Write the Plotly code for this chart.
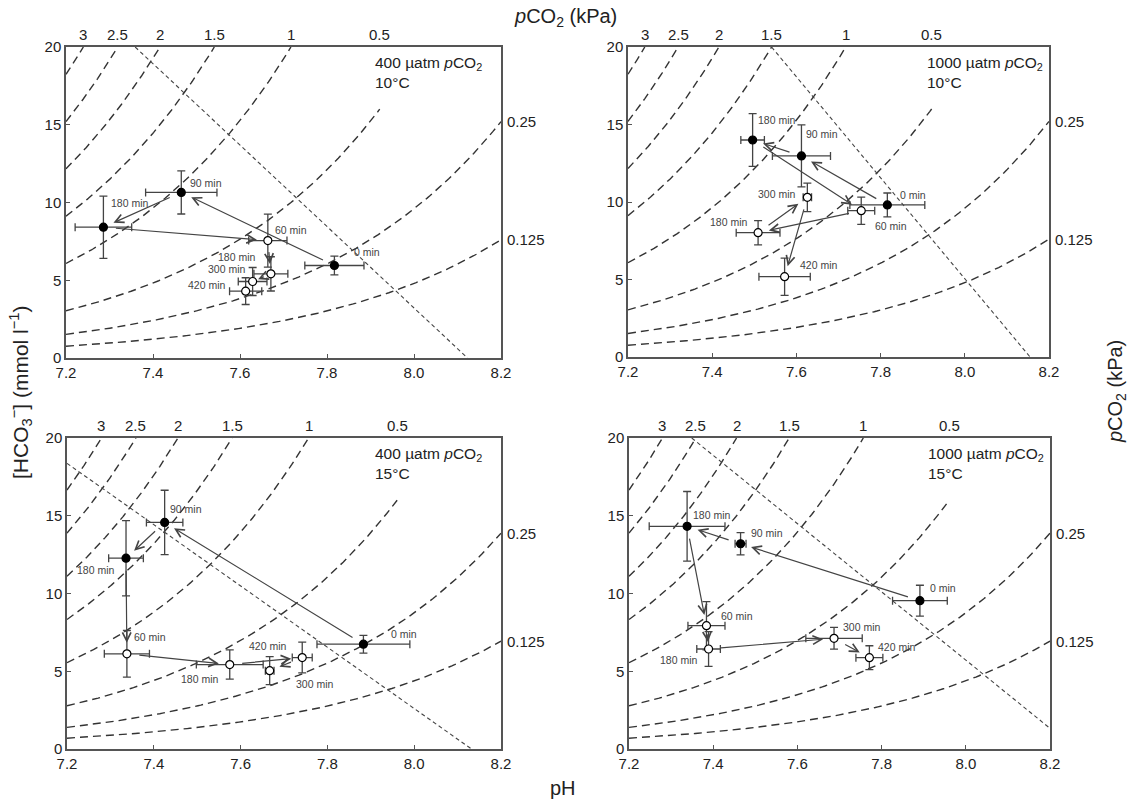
import numpy as np
import plotly.graph_objects as go

# ---------------- data ----------------
panel_titles = [
    "400 µatm <i>p</i>CO<sub>2</sub><br>10°C",
    "1000 µatm <i>p</i>CO<sub>2</sub><br>10°C",
    "400 µatm <i>p</i>CO<sub>2</sub><br>15°C",
    "1000 µatm <i>p</i>CO<sub>2</sub><br>15°C",
]
panel_temps = [10, 10, 15, 15]
co2_solubility = {10: 0.483, 15: 0.441}   # mmol l-1 kPa-1
pK = 6.1

isopleth_pco2 = [3, 2.5, 2, 1.5, 1, 0.5, 0.25, 0.125]
isopleth_top = [20, 20, 20, 20, 20, 16, 20, 20]
isopleth_labels = ["3", "2.5", "2", "1.5", "1", "0.5", "0.25", "0.125"]

time_labels = ["0 min", "90 min", "180 min", "60 min", "180 min", "300 min", "420 min"]
filled = [True, True, True, False, False, False, False]

p1_ph = [7.817, 7.465, 7.286, 7.664, 7.671, 7.629, 7.613]
p1_ph_err = [0.068, 0.082, 0.065, 0.044, 0.039, 0.033, 0.037]
p1_hco3 = [5.95, 10.65, 8.41, 7.55, 5.41, 4.92, 4.30]
p1_hco3_err = [0.60, 1.39, 2.0, 1.7, 1.1, 0.9, 0.86]

p2_ph = [7.816, 7.612, 7.496, 7.754, 7.509, 7.626, 7.572]
p2_ph_err = [0.089, 0.069, 0.028, 0.032, 0.052, 0.010, 0.061]
p2_hco3 = [9.81, 12.97, 14.0, 9.44, 8.02, 10.3, 5.18]
p2_hco3_err = [0.77, 2.0, 1.7, 0.88, 0.78, 0.92, 1.2]

p3_ph = [7.883, 7.425, 7.336, 7.338, 7.575, 7.742, 7.667]
p3_ph_err = [0.107, 0.042, 0.040, 0.052, 0.077, 0.023, 0.010]
p3_hco3 = [6.74, 14.57, 12.27, 6.12, 5.43, 5.88, 5.04]
p3_hco3_err = [0.57, 2.07, 2.42, 1.5, 0.94, 0.99, 0.90]

p4_ph = [7.891, 7.465, 7.338, 7.384, 7.389, 7.687, 7.771]
p4_ph_err = [0.065, 0.013, 0.090, 0.044, 0.028, 0.067, 0.032]
p4_hco3 = [9.54, 13.2, 14.32, 7.93, 6.43, 7.12, 5.87]
p4_hco3_err = [0.99, 0.72, 2.24, 1.55, 1.12, 0.70, 0.77]

buffer_ph = [[7.359, 8.123], [7.541, 8.155], [7.2, 8.132], [7.349, 8.2]]
buffer_hco3 = [[20, 0], [20, 0], [18.37, 0], [20, 1.33]]

ph_ticks = [7.2, 7.4, 7.6, 7.8, 8.0, 8.2]
hco3_ticks = [0, 5, 10, 15, 20]

ph_all = [p1_ph, p2_ph, p3_ph, p4_ph]
ph_err_all = [p1_ph_err, p2_ph_err, p3_ph_err, p4_ph_err]
hco3_all = [p1_hco3, p2_hco3, p3_hco3, p4_hco3]
hco3_err_all = [p1_hco3_err, p2_hco3_err, p3_hco3_err, p4_hco3_err]

# ---------------- layout (positions / styles) ----------------
W, H = 1130, 800
dom_x_px = [(66, 501), (628, 1049), (67, 501), (629, 1050)]
dom_y_px = [(47, 358), (47, 357), (438, 749), (438, 749)]

# label offsets (xanchor, xshift px, yshift px) per panel and point
label_pos = [
    [("left", 18, 13), ("left", 7, 9), ("left", 6, 24), ("left", 5, 11),
     ("right", -13, 17), ("right", -5, 12), ("right", -18, 6)],
    [("left", 11, 10), ("left", 3, 22), ("left", 3, 20), ("left", 12, -15),
     ("right", -8, 11), ("right", -9, 3), ("left", 13, 12)],
    [("left", 26, 10), ("left", 3, 13), ("right", -9, -12), ("left", 5, 17),
     ("right", -9, -14), ("center", 13, -26), ("center", -2, 25)],
    [("left", 8, 13), ("left", 8, 11), ("left", 4, 11), ("left", 13, 10),
     ("right", -9, -11), ("left", 7, 11), ("left", 7, 11)],
]

FONT = "Arial, 'Liberation Sans', Helvetica, sans-serif"
TXT = "#222222"
LINE = "#333333"

fig = go.Figure()
annotations = []
layout_axes = {}

for i in range(4):
    xs = "" if i == 0 else str(i + 1)
    xa, ya = "x" + xs, "y" + xs
    x0, x1 = dom_x_px[i]
    y0, y1 = dom_y_px[i]
    px_per_ph = (x1 - x0) / 1.0
    px_per_hc = (y1 - y0) / 20.0

    layout_axes["xaxis" + xs] = dict(
        domain=[x0 / W, x1 / W], range=[7.2, 8.2], anchor=ya, automargin=False,
        tickvals=ph_ticks, ticktext=[f"{v:.1f}" for v in ph_ticks],
        ticks="inside", ticklen=4, tickcolor="#555", showline=True, mirror=True,
        linecolor="#555", linewidth=1.5, showgrid=False, zeroline=False,
        tickfont=dict(family=FONT, size=15, color=TXT), fixedrange=True)
    layout_axes["yaxis" + xs] = dict(
        domain=[1 - y1 / H, 1 - y0 / H], range=[0, 20], anchor=xa, automargin=False,
        tickvals=hco3_ticks, ticks="inside", ticklen=4, tickcolor="#555",
        showline=True, mirror=True, linecolor="#555", linewidth=1.5,
        showgrid=False, zeroline=False,
        tickfont=dict(family=FONT, size=15, color=TXT), fixedrange=True)

    alpha = co2_solubility[panel_temps[i]]
    for pc, top, lab in zip(isopleth_pco2, isopleth_top, isopleth_labels):
        ph_end = min(8.2, pK + np.log10(top / (alpha * pc)))
        ph = np.linspace(7.2, ph_end, 160)
        hc = alpha * pc * 10 ** (ph - pK)
        fig.add_trace(go.Scatter(
            x=ph, y=hc, mode="lines", xaxis=xa, yaxis=ya, showlegend=False,
            hoverinfo="skip", line=dict(color=LINE, width=1.4, dash="8px,5px")))
        if ph_end < 8.2 - 1e-9:
            annotations.append(dict(
                x=ph_end, y=20, xref=xa, yref=ya, text=lab, showarrow=False,
                xanchor="center", yanchor="bottom", yshift=2,
                font=dict(family=FONT, size=15, color=TXT)))
        else:
            annotations.append(dict(
                x=8.2, y=hc[-1], xref=xa, yref=ya, text=lab, showarrow=False,
                xanchor="left", yanchor="middle", xshift=4,
                font=dict(family=FONT, size=15, color=TXT)))

    fig.add_trace(go.Scatter(
        x=buffer_ph[i], y=buffer_hco3[i], mode="lines", xaxis=xa, yaxis=ya,
        showlegend=False, hoverinfo="skip",
        line=dict(color="#444", width=1.1, dash="4px,3px")))

    ph_v, ph_e = ph_all[i], ph_err_all[i]
    hc_v, hc_e = hco3_all[i], hco3_err_all[i]

    # arrows between consecutive time points
    for k in range(len(ph_v) - 1):
        dx = (ph_v[k + 1] - ph_v[k]) * px_per_ph
        dy = (hc_v[k + 1] - hc_v[k]) * px_per_hc
        dist = (dx * dx + dy * dy) ** 0.5
        so = min(11, 0.3 * dist)
        annotations.append(dict(
            x=ph_v[k + 1], y=hc_v[k + 1], ax=ph_v[k], ay=hc_v[k],
            xref=xa, yref=ya, axref=xa, ayref=ya, text="", showarrow=True,
            arrowhead=5, arrowsize=1.4, arrowwidth=1.2, arrowcolor="#444",
            standoff=so, startstandoff=so))

    for flag, fill in ((True, "black"), (False, "white")):
        idx = [j for j in range(len(ph_v)) if filled[j] == flag]
        fig.add_trace(go.Scatter(
            x=[ph_v[j] for j in idx], y=[hc_v[j] for j in idx], mode="markers",
            xaxis=xa, yaxis=ya, showlegend=False,
            error_x=dict(type="data", array=[ph_e[j] for j in idx],
                         color="#444", thickness=1.3, width=4),
            error_y=dict(type="data", array=[hc_e[j] for j in idx],
                         color="#444", thickness=1.3, width=4),
            marker=dict(size=8, color=fill, line=dict(color="black", width=1.2))))

    for j, lab in enumerate(time_labels):
        anc, xsh, ysh = label_pos[i][j]
        annotations.append(dict(
            x=ph_v[j], y=hc_v[j], xref=xa, yref=ya, text=lab, showarrow=False,
            xanchor=anc, yanchor="middle", xshift=xsh, yshift=ysh,
            font=dict(family=FONT, size=10.5, color="#444")))

    annotations.append(dict(
        x=7.905, y=20, xref=xa, yref=ya, text=panel_titles[i], showarrow=False,
        xanchor="left", yanchor="top", yshift=-5, align="left",
        font=dict(family=FONT, size=15.5, color=TXT)))

# global axis titles
annotations += [
    dict(x=565 / W, y=1 - 18 / H, xref="paper", yref="paper", showarrow=False,
         text="<i>p</i>CO<sub>2</sub> (kPa)", xanchor="center", yanchor="middle",
         font=dict(family=FONT, size=20, color=TXT)),
    dict(x=20 / W, y=1 - 392 / H, xref="paper", yref="paper", showarrow=False,
         text="[HCO<sub>3</sub><sup>−</sup>] (mmol l<sup>−1</sup>)", textangle=-90,
         xanchor="center", yanchor="middle",
         font=dict(family=FONT, size=21, color=TXT)),
    dict(x=1116 / W, y=1 - 392 / H, xref="paper", yref="paper", showarrow=False,
         text="<i>p</i>CO<sub>2</sub> (kPa)", textangle=-90,
         xanchor="center", yanchor="middle",
         font=dict(family=FONT, size=20, color=TXT)),
    dict(x=563 / W, y=1 - 788 / H, xref="paper", yref="paper", showarrow=False,
         text="pH", xanchor="center", yanchor="middle",
         font=dict(family=FONT, size=20, color=TXT)),
]

fig.update_layout(
    width=W, height=H, autosize=False,
    margin=dict(l=0, r=0, t=0, b=0, autoexpand=False),
    paper_bgcolor="white", plot_bgcolor="white",
    showlegend=False, annotations=annotations, **layout_axes)

fig.write_html(
    "out.html",
    config={"displayModeBar": False},
    post_script="document.body.style.margin='0';document.body.style.overflow='hidden';")
